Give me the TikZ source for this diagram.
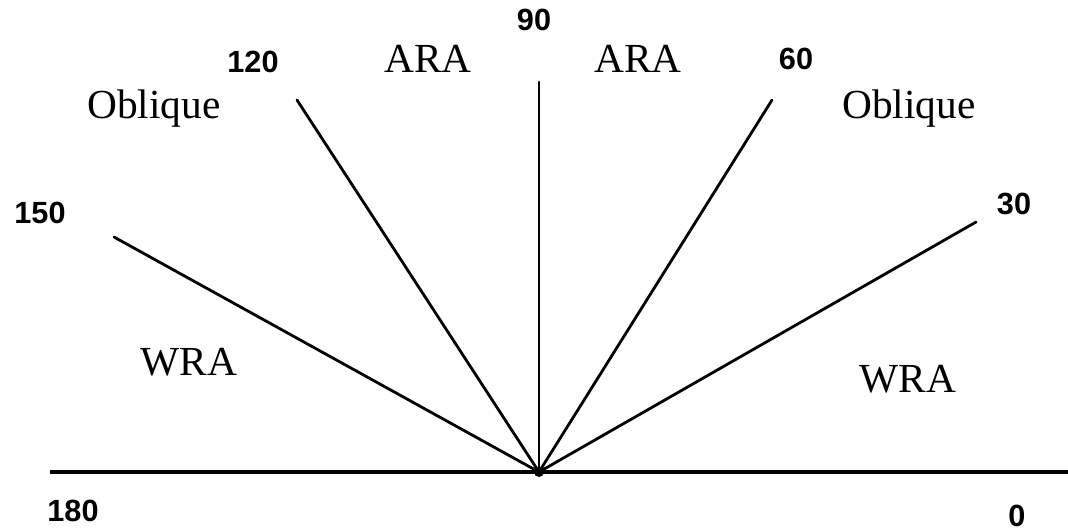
\documentclass[tikz,border=0pt]{standalone}
\usepackage{fontspec}
\setmainfont{Liberation Serif}
\newfontfamily\numfont{Liberation Sans}
\begin{document}
\begin{tikzpicture}[x=0.75pt,y=-0.75pt,
  ray/.style={line width=2.1pt,line cap=round},
  num/.style={font=\numfont\bfseries\fontsize{23}{25}\selectfont,inner sep=0pt,anchor=center},
  lab/.style={font=\fontsize{31}{34}\selectfont,inner sep=0pt,anchor=center}]
\useasboundingbox (0,0) rectangle (1068,532);
\fill[white] (0,0) rectangle (1068,532);
\coordinate (O) at (539,472);
\coordinate (L) at (50,472);
\coordinate (R) at (1068,472);
\coordinate (p90) at (539,82);
\coordinate (p120) at (297,100);
\coordinate (p60) at (772,100);
\coordinate (p150) at (114,237);
\coordinate (p30) at (976,222);
\draw[line width=2.3pt] (L) -- (R);
\draw[ray] (O) -- (p90);
\draw[ray] (O) -- (p120);
\draw[ray] (O) -- (p60);
\draw[ray] (O) -- (p150);
\draw[ray] (O) -- (p30);
\fill (O) circle (5);
\node[num] (n90) at (534,20) {90};
\node[num] (n120) at (253,62) {120};
\node[num] (n60) at (796,59) {60};
\node[num] (n150) at (40,213) {150};
\node[num] (n30) at (1014,204) {30};
\node[num] (n180) at (73,511) {180};
\node[num] (n0) at (1017,516) {0};
\node[lab,anchor=base] (ara1) at (428,72) {ARA};
\node[lab,anchor=base] (ara2) at (638,72) {ARA};
\node[lab,anchor=base] (obl1) at (154,118) {Oblique};
\node[lab,anchor=base] (obl2) at (909,118) {Oblique};
\node[lab,anchor=base] (wra1) at (189,375) {WRA};
\node[lab,anchor=base] (wra2) at (908,392) {WRA};
\end{tikzpicture}
\end{document}
